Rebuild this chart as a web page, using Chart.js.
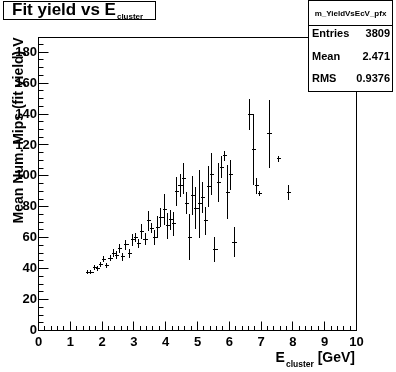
<!DOCTYPE html>
<html><head><meta charset="utf-8">
<script src="https://cdn.jsdelivr.net/npm/chart.js@4/dist/chart.umd.min.js"></script>
<style>html,body{margin:0;padding:0;background:#fff;}#wrap{width:396px;height:372px;position:relative;}canvas{display:block;}</style>
</head><body><div id="wrap"><canvas id="c" width="396" height="372"></canvas></div>
<script>
// ---- data ----
const binCenters = [1.55,1.65,1.75,1.85,1.95,2.05,2.15,2.25,2.35,2.45,2.55,2.65,2.75,2.85,2.95,3.05,3.15,3.25,3.35,3.45,3.55,3.65,3.75,3.85,3.95,4.05,4.15,4.25,4.35,4.45,4.55,4.65,4.75,4.85,4.95,5.05,5.15,5.25,5.35,5.45,5.55,5.65,5.75,5.85,5.95,6.05,6.15,6.65,6.75,6.85,6.95,7.25,7.55,7.85];
const meanYield  = [37.6,37.6,40.9,40.2,42.4,46.2,41.9,46.7,49.9,48.8,53.2,47.7,55.3,49.9,58.6,60.3,56.4,63.9,59.0,70.9,66.1,60.3,66.8,73.0,78.0,67.6,71.5,68.9,89.9,93.8,98.6,82.4,60.3,87.5,79.1,81.9,86.3,70.9,93.1,101.2,52.5,95.7,105.7,113.0,89.5,100.7,57.1,139.5,117.3,93.5,88.7,127.2,111.0,89.4];
const yieldError = [1.3,1.3,1.6,1.6,1.6,2.0,1.6,2.0,2.5,2.5,3.0,2.5,3.5,3.0,4.0,3.0,3.0,5.0,3.8,6.3,3.2,4.9,7.0,6.0,10.0,8.6,6.5,8.0,9.7,7.6,10.0,7.0,15.0,12.6,13.5,22.0,10.0,9.0,13.5,13.5,8.0,12.6,7.0,3.2,17.5,9.7,9.7,10.0,23.0,5.0,1.6,22.0,2.0,5.0];
const binHalfWidth = 0.05;
const xTickValues = [0,1,2,3,4,5,6,7,8,9,10];
const yTickValues = [0,20,40,60,80,100,120,140,160,180];
const statsName = 'm_YieldVsEcV_pfx';
const statsLabels = ['Entries','Mean','RMS'];
const statsValues = ['3809','2.471','0.9376'];

const FONT = '"Liberation Sans", Arial, Helvetica, sans-serif';
const points = binCenters.map((x,i)=>({x:x,y:meanYield[i]}));

const rootPlugin = {
  id:'rootStyle',
  afterDraw(chart){
    const ctx = chart.ctx, xs = chart.scales.x, ys = chart.scales.y, a = chart.chartArea;
    ctx.save();
    ctx.strokeStyle = '#000'; ctx.lineWidth = 1;
    const snap = v => Math.floor(v)+0.5;
    // frame
    ctx.strokeRect(a.left, a.top, a.right-a.left, a.bottom-a.top);
    // y ticks (inside)
    ctx.beginPath();
    for (let v=0; v<=ys.max+1e-9; v+=5){
      const p = snap(ys.getPixelForValue(v));
      const len = (Math.abs(v/20-Math.round(v/20))<1e-9)?10:5;
      ctx.moveTo(a.left, p); ctx.lineTo(a.left+len, p);
    }
    // x ticks (inside)
    for (let v=0; v<=xs.max+1e-9; v+=0.2){
      const p = snap(xs.getPixelForValue(v));
      const len = (Math.abs(v-Math.round(v))<1e-6)?9:4.5;
      ctx.moveTo(p, a.bottom); ctx.lineTo(p, a.bottom-len);
    }
    ctx.stroke();
    // error bars
    ctx.beginPath();
    chart.data.datasets[0].data.forEach((pt,i)=>{
      const xp = snap(xs.getPixelForValue(pt.x));
      const yp = snap(ys.getPixelForValue(pt.y));
      const x0 = xs.getPixelForValue(pt.x-binHalfWidth), x1 = xs.getPixelForValue(pt.x+binHalfWidth);
      const y0 = ys.getPixelForValue(pt.y-yieldError[i]), y1 = ys.getPixelForValue(pt.y+yieldError[i]);
      ctx.moveTo(Math.round(x0), yp); ctx.lineTo(Math.round(x1)+1, yp);
      ctx.moveTo(xp, Math.round(y0)); ctx.lineTo(xp, Math.round(y1));
    });
    ctx.stroke();
    // title box
    ctx.fillStyle='#fff';
    ctx.fillRect(3.5,1.5,152,18); ctx.strokeRect(3.5,1.5,152,18);
    ctx.fillStyle='#000'; ctx.textBaseline='alphabetic'; ctx.textAlign='left';
    ctx.font = 'bold 17px '+FONT;
    const t1 = 'Fit yield vs E';
    ctx.fillText(t1, 12, 15);
    const w1 = ctx.measureText(t1).width;
    ctx.font = 'bold 8px '+FONT;
    ctx.fillText('cluster', 12+w1+1, 19);
    // stats box
    ctx.fillStyle='#fff';
    ctx.fillRect(308.5,0.5,84,91); ctx.strokeRect(308.5,0.5,84,91);
    ctx.beginPath(); ctx.moveTo(308.5,25.5); ctx.lineTo(392.5,25.5); ctx.stroke();
    ctx.fillStyle='#000';
    ctx.font='bold 8px '+FONT; ctx.textAlign='center'; ctx.textBaseline='middle';
    ctx.fillText(statsName, 350.5, 14);
    ctx.font='bold 11px '+FONT;
    const rowsY=[34,57,79];
    statsLabels.forEach((l,i)=>{
      ctx.textAlign='left'; ctx.fillText(l, 312, rowsY[i]);
      ctx.textAlign='right'; ctx.fillText(statsValues[i], 390, rowsY[i]);
    });
    // x axis title with subscript
    ctx.textBaseline='alphabetic'; ctx.textAlign='left';
    ctx.font='bold 14px '+FONT;
    const wE = ctx.measureText('E').width, wG = ctx.measureText(' [GeV]').width;
    ctx.font='bold 8.5px '+FONT;
    const wS = ctx.measureText('cluster').width;
    let xStart = 355 - (wE + 1 + wS + wG);
    ctx.font='bold 14px '+FONT;
    ctx.fillText('E', xStart, 362);
    ctx.font='bold 8.5px '+FONT;
    ctx.fillText('cluster', xStart+wE+1, 367);
    ctx.font='bold 14px '+FONT;
    ctx.fillText(' [GeV]', xStart+wE+1+wS, 362);
    ctx.restore();
  }
};

new Chart(document.getElementById('c'), {
  type:'scatter',
  data:{datasets:[{data:points, pointRadius:0, showLine:false, borderColor:'#000', backgroundColor:'#000'}]},
  options:{
    responsive:false, animation:false, devicePixelRatio:1,
    layout:{padding:{left:0, top:37.5, right:39.5, bottom:0}},
    plugins:{legend:{display:false}, tooltip:{enabled:false}, title:{display:false}},
    scales:{
      x:{type:'linear', min:0, max:10,
        grid:{display:false, drawTicks:false}, border:{display:false},
        afterBuildTicks:s=>{s.ticks = xTickValues.map(v=>({value:v}));},
        ticks:{color:'#000', font:{family:FONT, size:13, weight:'bold'}, padding:4, autoSkip:false, maxRotation:0, callback:v=>String(v)},
        afterFit:s=>{s.height=41.5;}
      },
      y:{type:'linear', min:0, max:189.5,
        grid:{display:false, drawTicks:false}, border:{display:false},
        afterBuildTicks:s=>{s.ticks = yTickValues.map(v=>({value:v}));},
        ticks:{color:'#000', font:{family:FONT, size:13, weight:'bold'}, padding:1.5, autoSkip:false, callback:v=>String(v)},
        title:{display:true, text:'Mean Num. Mips (fit yield) V', align:'end', color:'#000', font:{family:FONT, size:14, weight:'bold'}, padding:{top:11, bottom:0}},
        afterFit:s=>{s.width=38.5;}
      }
    }
  },
  plugins:[rootPlugin]
});
</script></body></html>
